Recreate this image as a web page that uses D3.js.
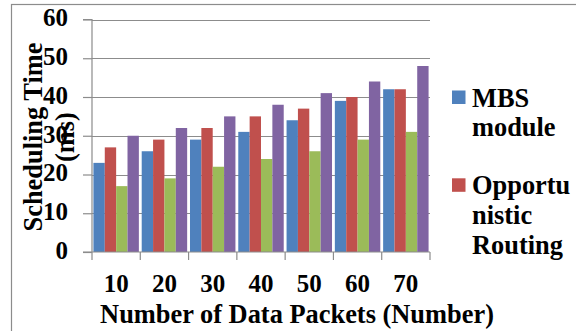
<!DOCTYPE html>
<html><head><meta charset="utf-8">
<script src="https://cdn.jsdelivr.net/npm/d3@7"></script>
<style>html,body{margin:0;padding:0;background:#fff;}svg{display:block;}
svg text{font-family:"Liberation Serif","Times New Roman",serif !important;font-weight:bold;fill:#000;}</style>
</head><body>
<svg id="c" width="576" height="331"></svg>
<script>
const categories = ["10","20","30","40","50","60","70"];
const seriesNames = ["MBS module","Opportunistic Routing","Series 3","Series 4"];
const mbs = [23,26,29,31,34,39,42];
const opportunistic = [27,29,32,35,37,40,42];
const series3 = [17,19,22,24,26,29,31];
const series4 = [30,32,35,38,41,44,48];
const yTicks = [0,10,20,30,40,50,60];
const colors = ["#4F81BD","#C0504D","#9BBB59","#8064A2"];
const legendLines = [["MBS","module"],["Opportu","nistic","Routing"]];

const allSeries = [mbs, opportunistic, series3, series4];
const svg = d3.select("#c");
const font = "'Liberation Serif','Times New Roman',serif";

// outer border
svg.append("rect").attr("x",11.5).attr("y",4.5).attr("width",600).attr("height",400)
  .attr("fill","none").attr("stroke","#8c8c8c").attr("stroke-width",1.2);

const pLeft = 92, pRight = 430, pTop = 19.5, pBottom = 252;
const x = d3.scaleBand().domain(categories).range([pLeft,pRight]).paddingInner(0).paddingOuter(0);
const xs = d3.scaleBand().domain(d3.range(allSeries.length)).range([0,x.bandwidth()]).paddingInner(0).paddingOuter(0.125);
const y = d3.scaleLinear().domain([0,60]).range([pBottom,pTop]);

// gridlines
svg.append("g").selectAll("line").data(yTicks.filter(d=>d>0)).join("line")
  .attr("x1",pLeft).attr("x2",pRight).attr("y1",d=>Math.round(y(d))+0.5).attr("y2",d=>Math.round(y(d))+0.5)
  .attr("stroke","#8c8c8c").attr("stroke-width",1.2);

// bars
categories.forEach((c,i)=>{
  allSeries.forEach((s,j)=>{
    svg.append("rect").attr("x",x(c)+xs(j)).attr("width",xs.bandwidth())
      .attr("y",y(s[i])).attr("height",pBottom-y(s[i])).attr("fill",colors[j]);
  });
});

// y axis
const yAxis = d3.axisLeft(y).tickValues(yTicks).tickSize(9).tickPadding(15);
const gy = svg.append("g").attr("transform",`translate(${pLeft},0)`).call(yAxis);
gy.attr("font-family",font);
gy.select(".domain").attr("stroke","#8c8c8c").attr("stroke-width",1.2).attr("d",`M-9,${pTop}H0V${pBottom}`);
gy.selectAll(".tick line").attr("stroke","#8c8c8c").attr("stroke-width",1.2);
gy.selectAll(".tick text").attr("font-size","25px").attr("dy","0.25em");

// x axis
const xAxis = d3.axisBottom(x).tickSize(0).tickPadding(0);
const gx = svg.append("g").attr("transform",`translate(0,${pBottom})`).call(xAxis);
gx.attr("font-family",font);
gx.select(".domain").attr("stroke","#8c8c8c").attr("stroke-width",1.2).attr("d",`M${pLeft-9},0H${pRight}`);
gx.selectAll(".tick text").attr("font-size","25px").attr("y",39.7).attr("dy",0);
svg.append("g").selectAll("line").data(d3.range(categories.length+1)).join("line")
  .attr("x1",d=>pLeft+d*x.bandwidth()).attr("x2",d=>pLeft+d*x.bandwidth())
  .attr("y1",pBottom).attr("y2",pBottom+8).attr("stroke","#8c8c8c").attr("stroke-width",1.2);

// axis titles
svg.append("text").attr("x",297).attr("y",323).attr("text-anchor","middle")
  .attr("font-size","26.4px").text("Number of Data Packets (Number)");
const yt = svg.append("text").attr("transform","translate(41.5,137) rotate(-90)").attr("text-anchor","middle")
  .attr("font-size","26.4px");
yt.append("tspan").attr("x",0).attr("y",0).text("Scheduling Time");
yt.append("tspan").attr("x",0).attr("y",32).text("(ms)");

// legend
const legendBase = [106.5, 194.3];
legendLines.forEach((lines,i)=>{
  svg.append("rect").attr("x",452).attr("y",legendBase[i]-16).attr("width",13.5).attr("height",13.5).attr("fill",colors[i]);
  const t = svg.append("text").attr("font-size","26.4px");
  lines.forEach((l,k)=>t.append("tspan").attr("x",472).attr("y",legendBase[i]+k*29.7).text(l));
});
</script>
</body></html>
